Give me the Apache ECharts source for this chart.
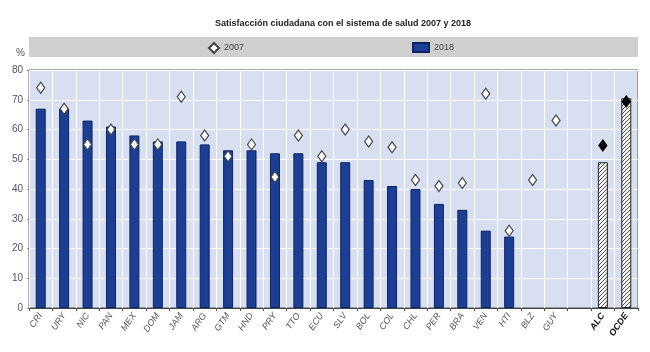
<!DOCTYPE html>
<html lang="es">
<head>
  <meta charset="UTF-8">
  <script src="https://cdn.jsdelivr.net/npm/echarts@6/dist/echarts.min.js"></script>
  <style>
    html, body { margin: 0; padding: 0; background: #fff; }
    #chart { width: 650px; height: 352px; }
  </style>
</head>
<body>
  <div id="chart"></div>
  <script>
    // países (el hueco vacío separa los agregados)
    const categories = ['CRI', 'URY', 'NIC', 'PAN', 'MEX', 'DOM', 'JAM', 'ARG', 'GTM', 'HND', 'PRY', 'TTO', 'ECU',
      'SLV', 'BOL', 'COL', 'CHL', 'PER', 'BRA', 'VEN', 'HTI', 'BLZ', 'GUY', '', 'ALC', 'OCDE'];
    const aggregates = ['ALC', 'OCDE'];

    // 2018 (barras)
    const values2018 = [67, 67, 63, 61, 58, 56, 56, 55, 53, 53, 52, 52, 49,
      49, 43, 41, 40, 35, 33, 26, 24, null, null, null, 49, 70.5];
    // 2007 (rombos)
    const values2007 = [74, 67, 55, 60, 55, 55, 71, 58, 51, 55, 44, 58, 51,
      60, 56, 54, 43, 41, 42, 72, 26, 43, 63, null, 54.6, 69.4];

    const narrow = '"Liberation Sans Narrow", "Arial Narrow", "Liberation Sans", sans-serif';

    // trama rayada para ALC / OCDE
    const hatch = document.createElement('canvas');
    hatch.width = 4;
    hatch.height = 4;
    const hctx = hatch.getContext('2d');
    hctx.fillStyle = '#f2f2f2';
    hctx.fillRect(0, 0, 4, 4);
    hctx.strokeStyle = '#555';
    hctx.lineWidth = 1;
    hctx.beginPath();
    hctx.moveTo(0, 4); hctx.lineTo(4, 0);
    hctx.moveTo(-1, 1); hctx.lineTo(1, -1);
    hctx.moveTo(3, 5); hctx.lineTo(5, 3);
    hctx.stroke();

    const barData = values2018.map((v, i) => {
      if (aggregates.includes(categories[i])) {
        return { value: v, itemStyle: { color: { image: hatch, repeat: 'repeat' }, borderColor: '#222', borderWidth: 1 } };
      }
      return v;
    });
    const dotData = values2007.map((v, i) => {
      if (aggregates.includes(categories[i])) {
        return { value: v, itemStyle: { color: '#000', borderColor: '#000' } };
      }
      return v;
    });
    const xLabels = categories.map(c => aggregates.includes(c)
      ? { value: c, textStyle: { fontWeight: 'bold', color: '#111', fontStyle: 'italic' } }
      : c);

    const chart = echarts.init(document.getElementById('chart'));
    chart.setOption({
      animation: false,
      title: {
        text: 'Satisfacción ciudadana con el sistema de salud 2007 y 2018',
        left: 338,
        textAlign: 'center',
        top: 14,
        textStyle: { fontFamily: narrow, fontSize: 9, fontWeight: 'bold', color: '#222' }
      },
      graphic: [{
        type: 'rect',
        shape: { x: 29, y: 37, width: 609, height: 20 },
        style: { fill: '#cfcfcf' },
        z: -1
      }],
      legend: [
        {
          data: ['2007'], left: 203, top: 37, itemWidth: 10, itemHeight: 10,
          textStyle: { fontFamily: narrow, fontSize: 9, color: '#444' }
        },
        {
          data: [{ name: '2018', icon: 'rect' }], left: 407, top: 37, itemWidth: 16, itemHeight: 9,
          textStyle: { fontFamily: narrow, fontSize: 9, color: '#444' }
        }
      ],
      grid: {
        left: 29, right: 12, top: 70, bottom: 44,
        show: true, backgroundColor: '#d7dff0', borderColor: '#555', borderWidth: 1
      },
      xAxis: {
        type: 'category',
        data: xLabels,
        axisLine: { lineStyle: { color: '#444' } },
        axisTick: { show: true, length: 3, lineStyle: { color: '#555' } },
        splitLine: { show: true, lineStyle: { color: '#fff', width: 1 } },
        axisLabel: {
          interval: 0, rotate: 55, fontSize: 9, fontStyle: 'italic', color: '#555',
          fontFamily: narrow, margin: 6
        }
      },
      yAxis: {
        type: 'value',
        min: 0, max: 80, interval: 10,
        name: '%',
        nameLocation: 'end',
        nameGap: 12,
        nameTextStyle: { fontFamily: narrow, fontSize: 10, color: '#555', align: 'right', padding: [0, 4, 0, 0] },
        axisLine: { show: false },
        axisTick: { show: true, length: 2, lineStyle: { color: '#888' } },
        splitLine: { lineStyle: { color: '#fff', width: 1 } },
        axisLabel: { fontFamily: narrow, fontSize: 10, color: '#555', margin: 6 }
      },
      series: [
        {
          name: '2018',
          type: 'bar',
          data: barData,
          barWidth: 10,
          itemStyle: { color: '#1c3f94', borderColor: '#0c2363', borderWidth: 1 },
          z: 2
        },
        {
          name: '2007',
          type: 'scatter',
          data: dotData,
          symbol: 'diamond',
          symbolSize: [8, 11],
          itemStyle: { color: '#fff', borderColor: '#444', borderWidth: 1.2, opacity: 1 },
          z: 3
        }
      ]
    });
  </script>
</body>
</html>
